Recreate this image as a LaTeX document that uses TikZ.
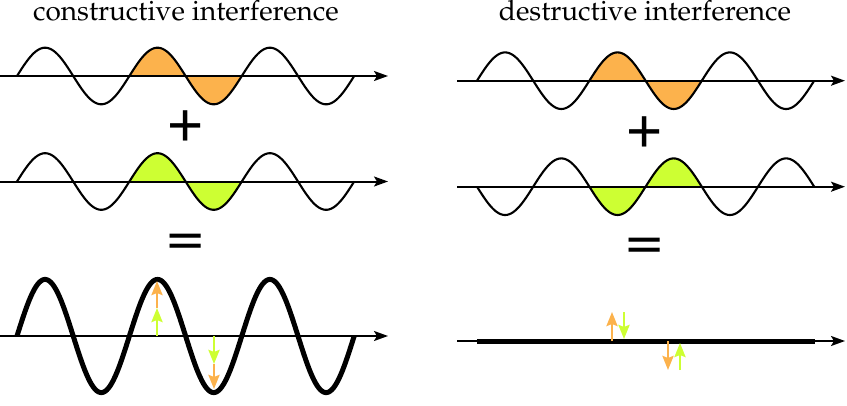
\documentclass[tikz,border=0pt]{standalone}
\usepackage[T1]{fontenc}
\usepackage{fontspec}
\newfontfamily\opfont{Liberation Sans}
\usetikzlibrary{arrows.meta}
\definecolor{wor}{RGB}{252,178,76}
\definecolor{wgr}{RGB}{205,255,51}
\newcommand{\palfont}{\fontencoding{T1}\fontfamily{ppl}\selectfont}
\begin{document}
\begin{tikzpicture}[x=1pt,y=-1pt,
 axisline/.style={line width=2pt,-{Stealth[length=14pt,width=10pt,inset=3pt]}},
 thinwave/.style={line width=2.1pt, line join=round},
 thickwave/.style={line width=5pt, line join=round},
 varrow/.style={line width=2.6pt,-{Stealth[length=14pt,width=11pt,inset=2pt]}},
 title/.style={anchor=base, inner sep=0pt, font=\palfont\fontsize{28}{30}\selectfont},
 op/.style={inner sep=0pt, font=\opfont\fontsize{62}{62}\selectfont},
 declare function={sl(\x)=sin((\x-17)*3.20285); sr(\x)=sin((\x-477)*3.20285);}
]
\useasboundingbox (0,0) rectangle (847,405);

% titles
\node[title] (tc) at (186,20) {constructive interference};
\node[title] (td) at (645,20) {destructive interference};

% ---------- constructive ----------
\fill[wor] plot[domain=129.4:241.8, samples=80] (\x,{76-28.3*sl(\x)}) -- cycle;
\fill[wgr] plot[domain=129.4:241.8, samples=80] (\x,{181.5-28.3*sl(\x)}) -- cycle;
\coordinate (a1s) at (0,76);   \coordinate (a1e) at (388,76);
\coordinate (a2s) at (0,181.5); \coordinate (a2e) at (388,181.5);
\coordinate (a3s) at (0,336);  \coordinate (a3e) at (388,336);
\draw[axisline] (a1s) -- (a1e);
\draw[axisline] (a2s) -- (a2e);
\draw[axisline] (a3s) -- (a3e);
\draw[thinwave] plot[domain=17:354.2, samples=200] (\x,{76-28.3*sl(\x)});
\draw[thinwave] plot[domain=17:354.2, samples=200] (\x,{181.5-28.3*sl(\x)});
\draw[thickwave] plot[domain=17:354.2, samples=200] (\x,{336-56.6*sl(\x)});
\node[op] (plusc) at (186,129) {+};
\node[op] (eqc) at (186,244) {\bfseries\scalebox{1}[0.6]{=}};
\coordinate (cu0) at (157,336); \coordinate (cu1) at (157,308); \coordinate (cu2) at (157,281);
\coordinate (cd0) at (214,336); \coordinate (cd1) at (214,364); \coordinate (cd2) at (214,389);
\draw[varrow, wgr] (cu0) -- (cu1);
\draw[varrow, wor] (cu1) -- (cu2);
\draw[varrow, wgr] (cd0) -- (cd1);
\draw[varrow, wor] (cd1) -- (cd2);

% ---------- destructive ----------
\fill[wor] plot[domain=589.4:701.8, samples=80] (\x,{80.7-28.3*sr(\x)}) -- cycle;
\fill[wgr] plot[domain=589.4:701.8, samples=80] (\x,{186.7+28.3*sr(\x)}) -- cycle;
\coordinate (b1s) at (457,80.7);  \coordinate (b1e) at (845,80.7);
\coordinate (b2s) at (457,186.7); \coordinate (b2e) at (845,186.7);
\coordinate (b3s) at (457,341);   \coordinate (b3e) at (845,341);
\draw[axisline] (b1s) -- (b1e);
\draw[axisline] (b2s) -- (b2e);
\draw[axisline] (b3s) -- (b3e);
\draw[thinwave] plot[domain=477:814.2, samples=200] (\x,{80.7-28.3*sr(\x)});
\draw[thinwave] plot[domain=477:814.2, samples=200] (\x,{186.7+28.3*sr(\x)});
\coordinate (f0) at (477,341); \coordinate (f1) at (815,341);
\draw[thickwave] (f0) -- (f1);
\node[op] (plusd) at (645,135) {+};
\node[op] (eqd) at (645,248) {\bfseries\scalebox{1}[0.6]{=}};
\coordinate (du0) at (612,341); \coordinate (du1) at (612,312);
\coordinate (dv0) at (624,312); \coordinate (dv1) at (624,339);
\coordinate (dw0) at (668,341); \coordinate (dw1) at (668,370);
\coordinate (dx0) at (680,370); \coordinate (dx1) at (680,343);
\draw[varrow, wor] (du0) -- (du1);
\draw[varrow, wgr] (dv0) -- (dv1);
\draw[varrow, wor] (dw0) -- (dw1);
\draw[varrow, wgr] (dx0) -- (dx1);
\end{tikzpicture}
\end{document}
